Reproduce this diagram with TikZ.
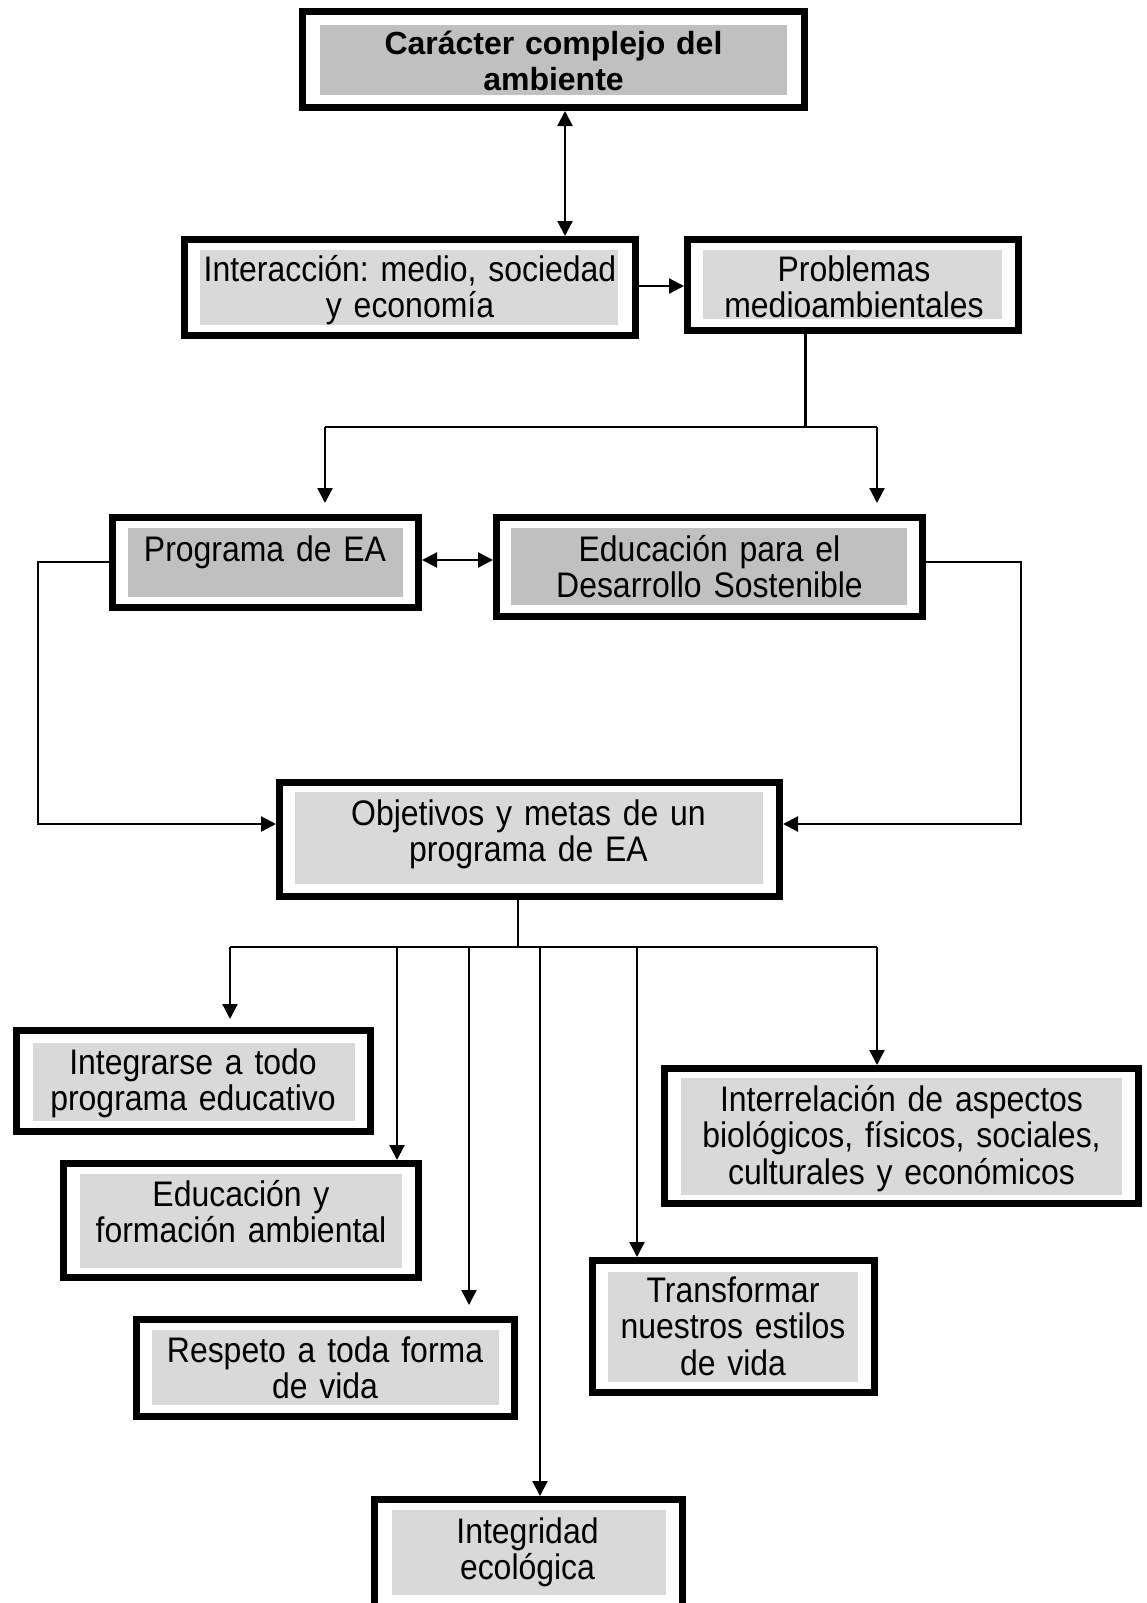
\documentclass[tikz,border=0pt]{standalone}
\usepackage{fontspec}
\setmainfont{Liberation Sans}
\newfontfamily\labelfont[FakeStretch=0.9]{Liberation Sans}
\usetikzlibrary{arrows.meta,calc}
\definecolor{shadeD}{HTML}{C0C0C0}
\definecolor{shadeL}{HTML}{D9D9D9}
\frenchspacing
% narrower interword space for the condensed label face
\newcommand\labelsetup{\labelfont\fontsize{35.5}{36.8}\selectfont
  \fontdimen2\font=7pt\fontdimen3\font=0pt\fontdimen4\font=0pt\frenchspacing}
\begin{document}
\begin{tikzpicture}[x=1pt,y=-1pt,
  frame/.style={draw=black, line width=7pt, inner sep=0pt, fill=none},
  txt/.style={anchor=base, inner sep=0pt, text width=520pt, align=center,
    font=\labelsetup},
  title/.style={anchor=base, inner sep=0pt, text width=520pt, align=center,
    font=\bfseries\fontsize{32}{36}\selectfont\frenchspacing},
  conn/.style={draw=black, line width=2.2pt},
  arr/.style={conn, -{Triangle[length=15pt,width=15pt]}},
  darr/.style={conn, {Triangle[length=15pt,width=15pt]}-{Triangle[length=15pt,width=15pt]}}]
\useasboundingbox (0,0) rectangle (1147,1603);
\clip (0,0) rectangle (1147,1603);
\fill[white] (0,0) rectangle (1147,1603);

% ---- shaded panels ----
\fill[shadeD] (320,25) rectangle (787,95);
\fill[shadeL] (200,250) rectangle (618,325);
\fill[shadeL] (703,250) rectangle (1002,319);
\fill[shadeD] (128,528) rectangle (403,597);
\fill[shadeD] (511,528) rectangle (907,605);
\fill[shadeL] (295,792) rectangle (763,884);
\fill[shadeL] (33,1043) rectangle (355,1121);
\fill[shadeL] (80,1174) rectangle (402,1268);
\fill[shadeL] (152,1330) rectangle (499,1405);
\fill[shadeL] (392,1510) rectangle (666,1595);
\fill[shadeL] (608,1272) rectangle (858,1382);
\fill[shadeL] (681,1078) rectangle (1122,1195);

% ---- frames ----
\node[frame, minimum width=502pt, minimum height=96pt] (A) at (553.5,59.5) {};
\node[frame, minimum width=451pt, minimum height=96pt] (B) at (410,287.5) {};
\node[frame, minimum width=331pt, minimum height=91pt] (C) at (853,285) {};
\node[frame, minimum width=306pt, minimum height=90pt] (D) at (265.5,562.5) {};
\node[frame, minimum width=426pt, minimum height=99pt] (E) at (709.5,567) {};
\node[frame, minimum width=500pt, minimum height=114pt] (F) at (529.5,839.5) {};
\node[frame, minimum width=354pt, minimum height=101pt] (G) at (193.5,1081) {};
\node[frame, minimum width=355pt, minimum height=114pt] (H) at (241,1220.5) {};
\node[frame, minimum width=378pt, minimum height=97pt] (I) at (325.5,1368) {};
\node[frame, minimum width=308pt, minimum height=117pt] (J) at (528.5,1558) {};
\node[frame, minimum width=282pt, minimum height=132pt] (K) at (733.5,1326.5) {};
\node[frame, minimum width=474pt, minimum height=135pt] (L) at (901.5,1136) {};

% ---- texts ----
\node[title] (At) at (553.5,54.5) {Carácter complejo del\\ambiente};
\node[txt] (Bt) at (410,281) {Interacción: medio, sociedad\\y economía};
\node[txt] (Ct) at (854,281) {Problemas\\medioambientales};
\node[txt] (Dt) at (265,561) {Programa de EA};
\node[txt] (Et) at (709.5,561) {Educación para el\\Desarrollo Sostenible};
\node[txt] (Ft) at (528.5,825) {Objetivos y metas de un\\programa de EA};
\node[txt] (Gt) at (193,1074) {Integrarse a todo\\programa educativo};
\node[txt] (Ht) at (241,1206) {Educación y\\formación ambiental};
\node[txt] (It) at (325,1362) {Respeto a toda forma\\de vida};
\node[txt] (Jt) at (527.5,1543) {Integridad\\ecológica};
\node[txt] (Kt) at (733,1302) {Transformar\\nuestros estilos\\de vida};
\node[txt] (Lt) at (901.5,1111) {Interrelación de aspectos\\biológicos, físicos, sociales,\\culturales y económicos};

% ---- routing points ----
\coordinate (axA) at (565,0);
\coordinate (rowBC) at (0,286);
\coordinate (split) at (805.5,427);
\coordinate (sL) at (325,427);
\coordinate (sR) at (877,427);
\coordinate (rowDE) at (0,560);
\coordinate (loopL) at (38,562);
\coordinate (loopLb) at (38,824);
\coordinate (loopR) at (1021,562);
\coordinate (loopRb) at (1021,824);
\coordinate (busM) at (518,947);
\coordinate (busL) at (230,947);
\coordinate (busR) at (877,947);
\coordinate (tH) at (397,947);
\coordinate (tI) at (469,947);
\coordinate (tJ) at (540,947);
\coordinate (tK) at (637,947);
\coordinate (gap) at (0,-11);

% ---- connectors ----
\draw[darr] (A.south -| axA) -- (B.north -| axA);
\draw[arr] (B.east |- rowBC) -- (C.west |- rowBC);
\draw[conn] (C.south -| split) -- (split);
\draw[conn] (sL) -- (sR);
\draw[arr] (sL) -- ($(sL |- D.north)+(gap)$);
\draw[arr] (sR) -- ($(sR |- E.north)+(gap)$);
\draw[darr] (D.east |- rowDE) -- (E.west |- rowDE);
\draw[arr] (loopL -| D.west) -- (loopL) -- (loopLb) -- (loopLb -| F.west);
\draw[arr] (loopR -| E.east) -- (loopR) -- (loopRb) -- (loopRb -| F.east);
\draw[conn] (F.south -| busM) -- (busM);
\draw[conn] (busL) -- (busR);
\draw[arr] (busL) -- ($(busL |- G.north)+(0,-8)$);
\draw[arr] (tH) -- (tH |- H.north);
\draw[arr] (tI) -- ($(tI |- I.north)+(gap)$);
\draw[arr] (tJ) -- (tJ |- J.north);
\draw[arr] (tK) -- (tK |- K.north);
\draw[arr] (busR) -- (busR |- L.north);
\end{tikzpicture}
\end{document}
